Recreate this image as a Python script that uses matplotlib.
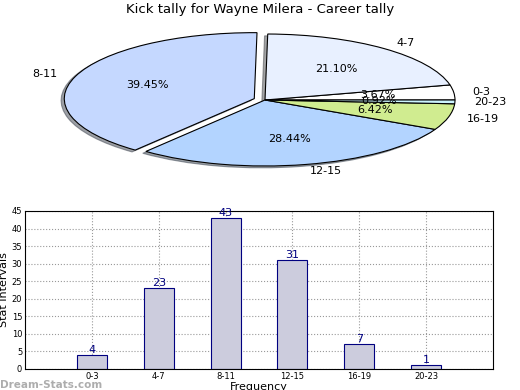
import matplotlib
matplotlib.use("Agg")
import matplotlib.pyplot as plt

# data
labels = ["0-3", "4-7", "8-11", "12-15", "16-19", "20-23"]
counts = [4, 23, 43, 31, 7, 1]
pie_colors = ["#ffffff", "#e8f0ff", "#c5d8ff", "#b3d4ff", "#d0ec90", "#ccf5ff"]
explode = [0, 0, 0.06, 0, 0, 0]

fig = plt.figure(figsize=(5.2, 3.9), dpi=100)

# pie (elliptical, aspect not equal)
W, H = 520.0, 390.0
cx, cy, rx, ry = 265, 100, 190, 66
k = 1.25
ax1 = fig.add_axes([(cx - rx * k) / W, (H - cy - ry * k) / H, 2 * rx * k / W, 2 * ry * k / H])
ax1.pie(counts, labels=labels, colors=pie_colors, explode=explode,
        autopct="%.2f%%", startangle=0, pctdistance=0.6,
        shadow={"ox": -0.012, "oy": -0.02},
        labeldistance=1.1, textprops={"fontsize": 8},
        wedgeprops={"edgecolor": "black", "linewidth": 0.8})
ax1.set_aspect("auto")
ax1.set_xlim(-k, k)
ax1.set_ylim(-k, k)
fig.text(0.5, 0.992, "Kick tally for Wayne Milera - Career tally",
         ha="center", va="top", fontsize=9.5)

# bars
ax2 = fig.add_axes([25 / W, (H - 369) / H, 468 / W, 158 / H])
x = list(range(len(labels)))
ax2.bar(x, counts, width=0.45, color="#ccccdd", edgecolor="navy", linewidth=0.8, zorder=2)
for xi, v in zip(x, counts):
    ax2.text(xi, v, str(v), ha="center", va="bottom", color="navy", fontsize=8, zorder=3)
ax2.set_xlim(-1, 6)
ax2.set_ylim(0, 45)
ax2.set_yticks(range(0, 46, 5))
ax2.set_xticks(x)
ax2.set_xticklabels(labels)
ax2.tick_params(labelsize=6, length=0, pad=2)
ax2.grid(True, linestyle=":", color="#999999", linewidth=0.8)
ax2.set_ylabel("Stat Intervals", fontsize=8, labelpad=2)
ax2.set_xlabel("Frequency", fontsize=8, labelpad=1)

fig.text(0.0, 0.0, "Dream-Stats.com", color="#999999", fontsize=7.5,
         fontweight="bold", ha="left", va="bottom", alpha=0.8)

fig.savefig("out.png", dpi=100)
